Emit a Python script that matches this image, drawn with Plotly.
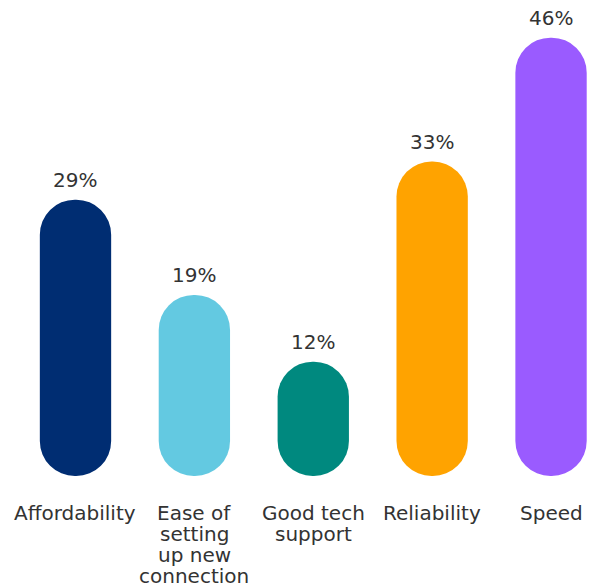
import plotly.graph_objects as go

categories = ["Affordability", "Ease of<br>setting<br>up new<br>connection", "Good tech<br>support", "Reliability", "Speed"]
values = [29, 19, 12, 33, 46]
colors = ["#002D72", "#63C9E1", "#00897F", "#FFA300", "#9A5BFF"]
labels = [f"{v}%" for v in values]
bases = [0, 0, 0, 0, 0]

FONT = "DejaVu Sans, sans-serif"
TEXT_COLOR = "#333333"

xs = list(range(len(values)))

fig = go.Figure()
fig.add_trace(go.Bar(
    x=xs, y=values, base=bases,
    marker=dict(color=colors, cornerradius="50%", line=dict(width=0)),
    width=0.6, hoverinfo="skip", showlegend=False,
))

# value labels above each bar
for i, v in enumerate(values):
    fig.add_annotation(
        x=xs[i], xref="x", y=v, yref="y",
        text=labels[i], showarrow=False, xanchor="center", yanchor="middle",
        yshift=20, font=dict(family=FONT, size=20, color=TEXT_COLOR),
    )

# category labels, one annotation per line for tight line spacing
for i, cat in enumerate(categories):
    for k, line in enumerate(cat.split("<br>")):
        fig.add_annotation(
            x=xs[i], xref="x", y=0, yref="paper",
            text=line, showarrow=False, xanchor="center", yanchor="middle",
            yshift=-(36.5 + k * 21.2),
            font=dict(family=FONT, size=20, color=TEXT_COLOR),
        )

fig.update_layout(
    width=593, height=587,
    margin=dict(l=0, r=0, t=0, b=111, autoexpand=False),
    plot_bgcolor="white", paper_bgcolor="white",
    font=dict(family=FONT, color=TEXT_COLOR),
    xaxis=dict(
        range=[-0.635, 4.353], showgrid=False, zeroline=False, showline=False,
        showticklabels=False, ticks="", automargin=False,
    ),
    yaxis=dict(range=[0, 49.95], visible=False, showgrid=False, zeroline=False, automargin=False),
)

fig.write_html(
    "out.html",
    config={"displayModeBar": False},
    post_script="document.body.style.margin='0';",
)
